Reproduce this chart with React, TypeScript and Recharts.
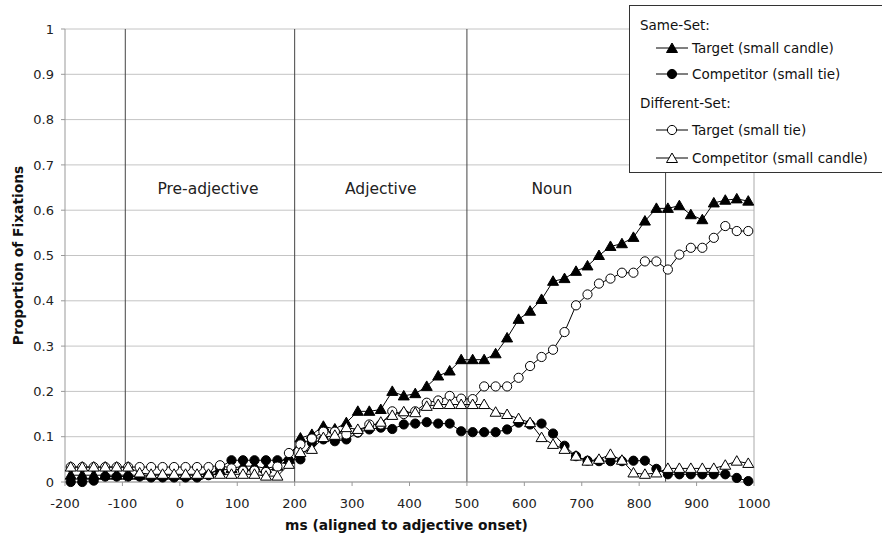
import { LineChart, Line, XAxis, YAxis, CartesianGrid, ReferenceLine, ReferenceDot } from "recharts";

// 20 ms bins, centred on each window
const msBins = [
  -190, -170, -150, -130, -110, -90, -70, -50, -30, -10,
  10, 30, 50, 70, 90, 110, 130, 150, 170, 190,
  210, 230, 250, 270, 290, 310, 330, 350, 370, 390,
  410, 430, 450, 470, 490, 510, 530, 550, 570, 590,
  610, 630, 650, 670, 690, 710, 730, 750, 770, 790,
  810, 830, 850, 870, 890, 910, 930, 950, 970, 990,
];

const sameTarget = [
  0.015, 0.015, 0.015, 0.015, 0.015, 0.015, 0.015, 0.015, 0.015, 0.015,
  0.015, 0.015, 0.02, 0.025, 0.03, 0.035, 0.035, 0.03, 0.035, 0.05,
  0.097, 0.105, 0.123, 0.117, 0.131, 0.156, 0.156, 0.16, 0.2, 0.19,
  0.195, 0.211, 0.234, 0.245, 0.27, 0.27, 0.27, 0.283, 0.318, 0.359,
  0.377, 0.403, 0.443, 0.449, 0.465, 0.477, 0.5, 0.52, 0.526, 0.54,
  0.576, 0.604, 0.604, 0.61, 0.59, 0.579, 0.616, 0.622, 0.625, 0.62,
];

const sameCompetitor = [
  0, 0, 0.003, 0.012, 0.012, 0.012, 0.012, 0.01, 0.01, 0.01,
  0.01, 0.01, 0.015, 0.032, 0.048, 0.048, 0.048, 0.048, 0.048, 0.048,
  0.05, 0.087, 0.094, 0.09, 0.094, 0.109, 0.116, 0.12, 0.117, 0.127,
  0.129, 0.132, 0.129, 0.129, 0.112, 0.11, 0.11, 0.11, 0.116, 0.131,
  0.127, 0.129, 0.107, 0.08, 0.057, 0.047, 0.046, 0.046, 0.046, 0.047,
  0.047, 0.029, 0.017, 0.017, 0.017, 0.017, 0.017, 0.017, 0.009, 0.002,
];

const diffTarget = [
  0.033, 0.033, 0.033, 0.033, 0.033, 0.033, 0.033, 0.033, 0.033, 0.033,
  0.033, 0.033, 0.033, 0.037, 0.03, 0.025, 0.025, 0.022, 0.034, 0.064,
  0.083, 0.096, 0.111, 0.111, 0.105, 0.11, 0.127, 0.127, 0.156, 0.15,
  0.156, 0.175, 0.18, 0.19, 0.184, 0.183, 0.211, 0.211, 0.211, 0.23,
  0.256, 0.276, 0.292, 0.331, 0.39, 0.414, 0.438, 0.449, 0.462, 0.462,
  0.487, 0.487, 0.469, 0.502, 0.517, 0.517, 0.539, 0.565, 0.554, 0.554,
];

const diffCompetitor = [
  0.033, 0.033, 0.033, 0.033, 0.033, 0.033, 0.02, 0.017, 0.017, 0.017,
  0.017, 0.017, 0.017, 0.017, 0.017, 0.017, 0.017, 0.013, 0.013, 0.039,
  0.065, 0.072, 0.098, 0.103, 0.12, 0.116, 0.123, 0.132, 0.147, 0.155,
  0.153, 0.167, 0.171, 0.171, 0.171, 0.171, 0.171, 0.154, 0.149, 0.14,
  0.131, 0.098, 0.083, 0.072, 0.057, 0.046, 0.05, 0.061, 0.048, 0.02,
  0.017, 0.02, 0.03, 0.03, 0.03, 0.03, 0.03, 0.037, 0.046, 0.041,
];

const xTicks = [-200, -100, 0, 100, 200, 300, 400, 500, 600, 700, 800, 900, 1000];
const yTicks = [0, 0.1, 0.2, 0.3, 0.4, 0.5, 0.6, 0.7, 0.8, 0.9, 1];

// region boundaries (ms) and region names
const boundaries = [-95, 200, 500, 846];
const regions = [
  { ms: 49, name: "Pre-adjective" },
  { ms: 350, name: "Adjective" },
  { ms: 648, name: "Noun" },
];
const regionLabelY = 0.649;

const data = msBins.map((ms, i) => ({
  ms,
  sameTarget: sameTarget[i],
  sameCompetitor: sameCompetitor[i],
  diffTarget: diffTarget[i],
  diffCompetitor: diffCompetitor[i],
}));

const FONT = "'DejaVu Sans', Verdana, sans-serif";

type DotProps = { cx?: number; cy?: number; index?: number };

function trianglePoints(cx: number, cy: number) {
  return `${cx},${cy - 5.5} ${cx + 5.5},${cy + 4} ${cx - 5.5},${cy + 4}`;
}

function triangleDot(filled: boolean) {
  return (p: DotProps) => {
    if (p.cx == null || p.cy == null) return <g key={`tn${p.index}`} />;
    return (
      <polygon
        key={`t${p.index}`}
        points={trianglePoints(p.cx, p.cy)}
        fill={filled ? "#000" : "#fff"}
        stroke="#000"
        strokeWidth={1}
      />
    );
  };
}

function circleDot(filled: boolean) {
  return (p: DotProps) => {
    if (p.cx == null || p.cy == null) return <g key={`cn${p.index}`} />;
    return (
      <circle
        key={`c${p.index}`}
        cx={p.cx}
        cy={p.cy}
        r={4.6}
        fill={filled ? "#000" : "#fff"}
        stroke="#000"
        strokeWidth={1}
      />
    );
  };
}

function LegendIcon({ shape, filled }: { shape: "triangle" | "circle"; filled: boolean }) {
  return (
    <svg width={32} height={14} style={{ position: "absolute", left: 16, top: 1 }}>
      <line x1={0} y1={7} x2={32} y2={7} stroke="#000" strokeWidth={1} />
      {shape === "triangle" ? (
        <polygon points={trianglePoints(16, 7.5)} fill={filled ? "#000" : "#fff"} stroke="#000" />
      ) : (
        <circle cx={16} cy={7} r={4.6} fill={filled ? "#000" : "#fff"} stroke="#000" />
      )}
    </svg>
  );
}

// center = vertical middle of each row's text, in page pixels
const legendRows: Array<{ center: number; text: string; shape?: "triangle" | "circle"; filled?: boolean }> = [
  { center: 25, text: "Same-Set:" },
  { center: 47.5, text: "Target (small candle)", shape: "triangle", filled: true },
  { center: 74, text: "Competitor (small tie)", shape: "circle", filled: true },
  { center: 103.3, text: "Different-Set:" },
  { center: 130, text: "Target (small tie)", shape: "circle", filled: false },
  { center: 157.5, text: "Competitor (small candle)", shape: "triangle", filled: false },
];

function FixationLegend() {
  return (
    <div
      style={{
        position: "absolute",
        left: 629,
        top: 5,
        width: 320,
        height: 166,
        background: "#fff",
        border: "1px solid #333",
        fontFamily: FONT,
        fontSize: 13.5,
        color: "#111",
      }}
    >
      {legendRows.map((row) => (
        <div
          key={row.text}
          style={{ position: "absolute", left: 10, top: row.center - 14, height: 16, lineHeight: "16px", width: 300 }}
        >
          {row.shape ? (
            <>
              <LegendIcon shape={row.shape} filled={!!row.filled} />
              <span style={{ position: "absolute", left: 52, whiteSpace: "nowrap" }}>{row.text}</span>
            </>
          ) : (
            <span style={{ whiteSpace: "nowrap" }}>{row.text}</span>
          )}
        </div>
      ))}
    </div>
  );
}

export default function App() {
  return (
    <div style={{ position: "absolute", left: 0, top: 0, width: 882, height: 540, overflow: "hidden", background: "#fff" }}>
      <LineChart width={882} height={540} data={data} margin={{ top: 29, right: 128, bottom: 0, left: 0 }}>
        <CartesianGrid horizontal vertical={false} stroke="#c4c4c4" />
        <XAxis
          dataKey="ms"
          type="number"
          domain={[-200, 1000]}
          ticks={xTicks}
          height={58}
          tickSize={4}
          tickMargin={13}
          stroke="#999"
          tick={{ fill: "#222", fontSize: 13, fontFamily: FONT }}
          label={{
            value: "ms (aligned to adjective onset)",
            position: "insideBottom",
            offset: 10,
            dx: -3,
            fill: "#111",
            fontSize: 13.8,
            fontWeight: "bold",
            fontFamily: FONT,
          }}
        />
        <YAxis
          type="number"
          domain={[0, 1]}
          ticks={yTicks}
          width={65}
          tickSize={4}
          tickMargin={7}
          stroke="#999"
          tickFormatter={(v: number) => String(v)}
          tick={{ fill: "#222", fontSize: 13, fontFamily: FONT }}
          label={{
            value: "Proportion of Fixations",
            angle: -90,
            position: "center",
            dx: -14,
            fill: "#111",
            fontSize: 13.8,
            fontWeight: "bold",
            fontFamily: FONT,
          }}
        />
        <ReferenceLine x={1000} stroke="#aaa" />
        {boundaries.map((b) => (
          <ReferenceLine key={b} x={b} stroke="#444" strokeWidth={1} />
        ))}
        {regions.map((r) => (
          <ReferenceDot
            key={r.name}
            x={r.ms}
            y={regionLabelY}
            r={0}
            fill="none"
            stroke="none"
            label={{ value: r.name, position: "center", fill: "#222", fontSize: 15.5, fontFamily: FONT }}
          />
        ))}
        <Line
          dataKey="sameTarget"
          stroke="#000"
          strokeWidth={1}
          dot={triangleDot(true)}
          activeDot={false}
          isAnimationActive={false}
        />
        <Line
          dataKey="sameCompetitor"
          stroke="#000"
          strokeWidth={1}
          dot={circleDot(true)}
          activeDot={false}
          isAnimationActive={false}
        />
        <Line
          dataKey="diffTarget"
          stroke="#000"
          strokeWidth={1}
          dot={circleDot(false)}
          activeDot={false}
          isAnimationActive={false}
        />
        <Line
          dataKey="diffCompetitor"
          stroke="#000"
          strokeWidth={1}
          dot={triangleDot(false)}
          activeDot={false}
          isAnimationActive={false}
        />
      </LineChart>
      <FixationLegend />
    </div>
  );
}
